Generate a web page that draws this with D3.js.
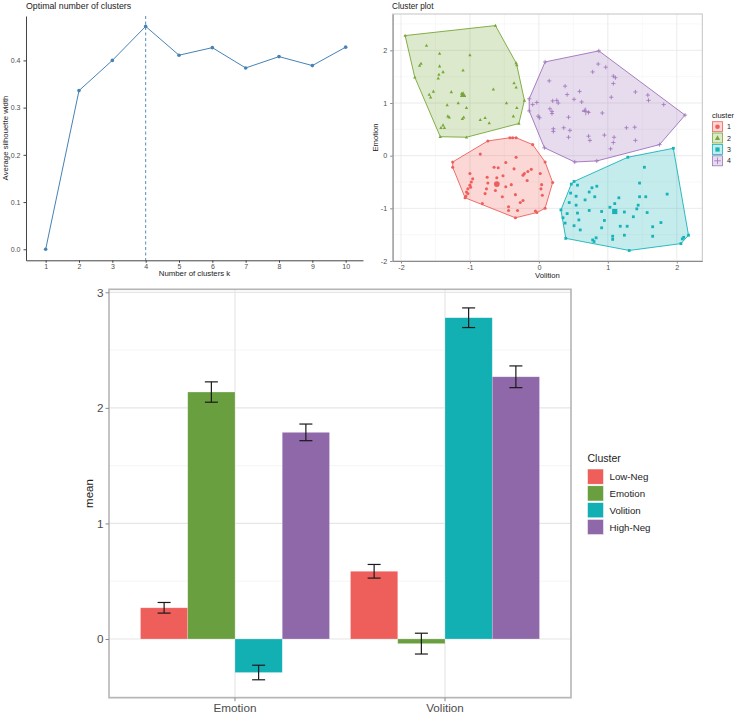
<!DOCTYPE html>
<html><head><meta charset="utf-8">
<script src="https://cdn.jsdelivr.net/npm/d3@7"></script>
<style>
body{margin:0;background:#fff;}
svg{display:block;font-family:"Liberation Sans",Arial,Helvetica,sans-serif;}
</style></head>
<body>
<svg id="c" width="736" height="716"></svg>
<script>
// ---------- DATA ----------
const silK = [1,2,3,4,5,6,7,8,9,10];
const silWidth = [0, 0.336, 0.400, 0.472, 0.411, 0.427, 0.384, 0.408, 0.389, 0.428];
const optimalK = 4;
const silYTicks = [0.0, 0.1, 0.2, 0.3, 0.4];

const clusterIds = ["1","2","3","4"];
const cluster1Pts = [[-1.25,-0.12],[-0.74,0.28],[-0.42,0.34],[-0.33,0.34],[-0.09,0.21],[0.09,-0.12],[0.20,-0.51],[0.09,-1.00],[-0.03,-1.08],[-0.34,-1.18],[-0.82,-0.91],[-1.07,-0.80],[-1.25,-0.22],
 [-0.85,0.03],[-0.33,-0.03],[-0.48,-0.13],[-0.65,-0.22],[-0.59,-0.23],[-0.36,-0.25],[-0.11,-0.26],[-0.16,-0.30],[-0.21,-0.34],[-0.23,-0.37],[-0.17,-0.47],[0.02,-0.34],[-1.00,-0.34],[-0.96,-0.44],[-0.98,-0.50],[-1.00,-0.56],[-1.03,-0.63],[-1.05,-0.69],[-1.03,-0.72],[-0.75,-0.41],[-0.74,-0.52],[-0.76,-0.63],[-0.78,-0.72],[-0.63,-0.66],[-0.52,-0.38],[-0.48,-0.59],[-0.34,-0.74],[-0.53,-0.78],[-0.27,-0.89],[-0.23,-0.85],[-0.44,-0.97],[-0.44,-1.04],[-0.31,-1.04],[0.04,-0.55],[0.03,-0.63],[0.05,-0.75],[-1.06,-0.77],[-0.99,-0.60],[-0.05,-1.05],[-0.38,0.34],[-0.40,-0.55],[-0.61,-0.42]];
const cluster2Pts = [[-1.94,2.28],[-0.63,2.47],[-0.33,1.76],[-0.21,1.05],[-0.29,0.61],[-1.05,0.35],[-1.43,0.36],[-1.80,1.49],
 [-1.63,2.09],[-1.44,1.94],[-1.71,1.75],[-1.73,1.71],[-1.44,1.70],[-1.39,1.59],[-1.45,1.54],[-1.46,1.47],[-1.10,1.62],[-1.00,1.91],[-0.32,1.72],[-0.36,1.38],[-0.33,1.30],[-1.59,1.16],[-1.57,1.11],[-1.53,1.22],[-1.27,1.21],[-1.17,1.00],[-1.05,0.91],[-1.33,0.96],[-1.32,0.75],[-1.30,0.73],[-1.39,0.58],[-1.37,0.53],[-1.42,0.53],[-1.11,0.70],[-1.09,0.73],[-0.85,0.68],[-0.78,0.72],[-0.72,0.62],[-0.66,1.26],[-0.47,1.00],[-0.37,0.75],[-0.32,0.91],[-1.12,1.18],[-1.08,1.14]];
const cluster3Pts = [[0.47,-0.54],[0.51,-0.49],[1.29,-0.03],[1.95,0.14],[2.17,-1.51],[2.08,-1.58],[2.06,-1.67],[1.31,-1.80],[0.39,-1.57],[0.35,-1.18],[0.32,-1.03],
 [1.53,-0.22],[1.46,-0.52],[1.86,-0.73],[0.84,-0.58],[0.77,-0.61],[0.73,-0.69],[0.56,-0.56],[0.46,-0.71],[0.54,-0.77],[0.44,-0.89],[0.41,-1.10],[0.56,-1.09],[0.58,-1.22],[0.51,-1.33],[0.60,-1.41],[0.54,-0.94],[0.81,-0.78],[0.67,-0.84],[0.73,-1.04],[0.91,-1.06],[0.95,-1.23],[0.91,-1.37],[0.78,-1.60],[0.83,-1.56],[0.80,-1.63],[1.07,-1.53],[1.07,-1.59],[1.10,-0.91],[1.16,-0.80],[1.03,-0.98],[1.24,-1.07],[1.37,-1.16],[1.18,-1.34],[1.28,-1.34],[1.24,-1.51],[1.42,-1.01],[1.44,-0.94],[1.46,-0.78],[1.57,-1.08],[1.65,-1.35],[1.77,-1.27],[1.65,-1.53],[1.55,-0.78],[2.10,-1.55],[0.38,-1.28]];
const cluster4Pts = [[0.09,1.78],[0.87,1.99],[2.12,0.77],[1.75,0.21],[0.84,-0.10],[0.52,-0.12],[0.08,0.15],[-0.14,0.85],[-0.14,1.08],
 [0.86,1.74],[0.78,1.59],[0.97,1.68],[1.08,1.51],[1.11,1.48],[1.08,1.37],[0.15,1.42],[0.38,1.32],[0.41,1.16],[0.59,1.22],[0.51,1.07],[0.62,1.02],[0.72,0.82],[0.92,0.81],[1.05,1.11],[1.40,1.21],[1.58,1.15],[1.59,1.05],[1.81,0.97],[-0.03,1.01],[-0.09,0.97],[-0.01,0.75],[0.01,0.72],[0.16,0.89],[0.19,0.84],[0.19,0.80],[0.26,1.05],[0.28,1.00],[0.20,1.04],[0.43,0.73],[0.36,0.53],[0.45,0.48],[0.21,0.51],[0.21,0.46],[0.43,0.35],[0.72,0.37],[0.74,0.29],[0.95,0.39],[1.09,0.35],[1.08,0.25],[1.04,0.13],[1.27,0.53],[1.39,0.54],[1.40,0.29],[0.66,0.86]];
const clusterCenters = [[-0.61,-0.54],[-1.10,1.16],[1.10,-1.06],[0.68,0.84]];
const clusterXTicks = [-2,-1,0,1,2];
const clusterYTicks = [-2,-1,0,1,2];

const barVars = ["Emotion","Volition"];
const clusterNames = ["Low-Neg","Emotion","Volition","High-Neg"];
const meanEmotion = [0.270, 2.137, -0.290, 1.788];
const meanVolition = [0.586, -0.040, 2.780, 2.269];
const seEmotion = [0.046, 0.088, 0.063, 0.072];
const seVolition = [0.059, 0.090, 0.085, 0.094];
const barYTicks = [0,1,2,3];

// ---------- STYLE ----------
const clusterStroke = ["#EE5F5B","#76A736","#17B3B8","#9E72BA"];
const barColors = ["#EE5F5B","#6A9F3F","#12AFB3","#8E68A9"];
const svg = d3.select("#c");
const plainFmt = d => String(d);

// ================= PANEL 1: silhouette =================
(function(){
  const g = svg.append("g");
  const x = d3.scaleLinear().domain([0.41,10.52]).range([26,363]);
  const y = d3.scaleLinear().domain([-0.0233,0.494]).range([260.3,16]);
  g.append("text").attr("x",26).attr("y",9).attr("font-size",8.8).attr("fill","#222").text("Optimal number of clusters");
  g.append("line").attr("x1",x(optimalK)).attr("x2",x(optimalK)).attr("y1",y.range()[1]).attr("y2",y.range()[0])
    .attr("stroke","#4682B4").attr("stroke-dasharray","3,2.5").attr("stroke-width",0.9);
  const line = d3.line().x((d,i)=>x(silK[i])).y(d=>y(d));
  g.append("path").datum(silWidth).attr("d",line).attr("fill","none").attr("stroke","#4682B4").attr("stroke-width",1);
  g.selectAll("circle.p").data(silWidth).join("circle").attr("cx",(d,i)=>x(silK[i])).attr("cy",d=>y(d)).attr("r",1.8).attr("fill","#4682B4");
  const xa = g.append("g").attr("transform","translate(0,260.3)").call(d3.axisBottom(x).tickValues(silK).tickSize(2.5).tickSizeOuter(0).tickFormat(d3.format("d")));
  const ya = g.append("g").attr("transform","translate(26,0)").call(d3.axisLeft(y).tickValues(silYTicks).tickSize(2.5).tickSizeOuter(0).tickFormat(d3.format(".1f")));
  [xa,ya].forEach(a=>{a.select(".domain").attr("stroke","#444").attr("stroke-width",1);
    a.selectAll(".tick line").attr("stroke","#444");
    a.selectAll("text").attr("font-size",7).attr("fill","#4d4d4d").attr("font-family","Liberation Sans, Arial, sans-serif");});
  xa.selectAll("text").attr("y",4);
  g.append("text").attr("x",194.5).attr("y",276).attr("text-anchor","middle").attr("font-size",7.8).attr("fill","#222").text("Number of clusters k");
  g.append("text").attr("transform","translate(8,138) rotate(-90)").attr("text-anchor","middle").attr("font-size",7.8).attr("fill","#222").text("Average silhouette width");
})();

// ================= PANEL 2: cluster plot =================
(function(){
  const g = svg.append("g");
  const L=392.7,R=702.3,T=14,B=261;
  const x = d3.scaleLinear().domain([-2.12,2.37]).range([L,R]);
  const y = d3.scaleLinear().domain([-2,2.69]).range([B,T]);
  g.append("text").attr("x",392).attr("y",9).attr("font-size",8.2).attr("fill","#222").text("Cluster plot");
  g.append("rect").attr("x",L).attr("y",T).attr("width",R-L).attr("height",B-T).attr("fill","#fff");
  d3.range(-2.5,2.51,1).forEach(v=>{ if(x(v)>L&&x(v)<R) g.append("line").attr("x1",x(v)).attr("x2",x(v)).attr("y1",T).attr("y2",B).attr("stroke","#F3F3F3").attr("stroke-width",0.6);});
  d3.range(-1.5,2.6,1).forEach(v=>{ if(y(v)>T&&y(v)<B) g.append("line").attr("y1",y(v)).attr("y2",y(v)).attr("x1",L).attr("x2",R).attr("stroke","#F3F3F3").attr("stroke-width",0.6);});
  clusterXTicks.forEach(v=>g.append("line").attr("x1",x(v)).attr("x2",x(v)).attr("y1",T).attr("y2",B).attr("stroke","#E6E6E6").attr("stroke-width",0.8));
  clusterYTicks.forEach(v=>g.append("line").attr("y1",y(v)).attr("y2",y(v)).attr("x1",L).attr("x2",R).attr("stroke","#E6E6E6").attr("stroke-width",0.8));

  const pts = [cluster1Pts,cluster2Pts,cluster3Pts,cluster4Pts];
  pts.forEach((p,i)=>{
    const hull = d3.polygonHull(p.map(d=>[x(d[0]),y(d[1])]));
    g.append("path").attr("d","M"+hull.join("L")+"Z").attr("fill",clusterStroke[i]).attr("fill-opacity",0.25)
      .attr("stroke",clusterStroke[i]).attr("stroke-width",0.9);
  });
  function marker(sel, i, cx, cy, s){
    const c = clusterStroke[i];
    if(i===0) sel.append("circle").attr("cx",cx).attr("cy",cy).attr("r",s*0.55).attr("fill",c);
    else if(i===1) sel.append("path").attr("d",`M${cx},${cy-s*0.65}L${cx+s*0.6},${cy+s*0.45}L${cx-s*0.6},${cy+s*0.45}Z`).attr("fill",c);
    else if(i===2) sel.append("rect").attr("x",cx-s*0.5).attr("y",cy-s*0.5).attr("width",s).attr("height",s).attr("fill",c);
    else sel.append("path").attr("d",`M${cx-s*0.75},${cy}H${cx+s*0.75}M${cx},${cy-s*0.75}V${cy+s*0.75}`).attr("stroke",c).attr("stroke-width",0.8).attr("fill","none");
  }
  pts.forEach((p,i)=>{
    p.forEach(d=>marker(g,i,x(d[0]),y(d[1]),2.8));
    marker(g,i,x(clusterCenters[i][0]),y(clusterCenters[i][1]),5.2);
  });
  g.append("rect").attr("x",L).attr("y",T).attr("width",R-L).attr("height",B-T).attr("fill","none").attr("stroke","#C4C4C4").attr("stroke-width",1);
  const xa = g.append("g").attr("transform",`translate(0,${B})`).call(d3.axisBottom(x).tickValues(clusterXTicks).tickSize(2.5).tickSizeOuter(0).tickFormat(plainFmt));
  const ya = g.append("g").attr("transform",`translate(${L},0)`).call(d3.axisLeft(y).tickValues(clusterYTicks).tickSize(2.5).tickSizeOuter(0).tickFormat(plainFmt));
  [xa,ya].forEach(a=>{a.select(".domain").attr("stroke","#8a8a8a").attr("stroke-width",1);
    a.selectAll(".tick line").attr("stroke","#8a8a8a");
    a.selectAll("text").attr("font-size",7.2).attr("fill","#4d4d4d").attr("font-family","Liberation Sans, Arial, sans-serif");});
  xa.selectAll("text").attr("y",4);
  g.append("text").attr("x",(L+R)/2).attr("y",278).attr("text-anchor","middle").attr("font-size",7.7).attr("fill","#222").text("Volition");
  g.append("text").attr("transform",`translate(378,${(T+B)/2}) rotate(-90)`).attr("text-anchor","middle").attr("font-size",7.7).attr("fill","#222").text("Emotion");
  // legend
  g.append("text").attr("x",712).attr("y",118).attr("font-size",7.5).attr("fill","#222").text("cluster");
  const ky = [126.7,138,149.5,160.8];
  clusterIds.forEach((id,i)=>{
    g.append("rect").attr("x",712.5).attr("y",ky[i]-5).attr("width",10).attr("height",10)
      .attr("fill",clusterStroke[i]).attr("fill-opacity",0.25).attr("stroke",clusterStroke[i]).attr("stroke-width",0.8);
    marker(g,i,717.5,ky[i],i===3?4.4:4.2);
    g.append("text").attr("x",727).attr("y",ky[i]+2.5).attr("font-size",7).attr("fill","#222").text(id);
  });
})();

// ================= PANEL 3: bar chart =================
(function(){
  const g = svg.append("g");
  const L=109,R=571,T=289.3,B=697.7;
  const x0 = d3.scaleBand().domain(barVars).range([L,R]).paddingInner(0.1).paddingOuter(0.15);
  const x1 = d3.scaleBand().domain(clusterNames).range([0,x0.bandwidth()]).padding(0);
  const y = d3.scaleLinear().domain([-0.508,3.026]).range([B,T]);
  g.append("rect").attr("x",L).attr("y",T).attr("width",R-L).attr("height",B-T).attr("fill","#fff");
  [-0.5,0.5,1.5,2.5].forEach(v=>g.append("line").attr("x1",L).attr("x2",R).attr("y1",y(v)).attr("y2",y(v)).attr("stroke","#F2F2F2").attr("stroke-width",0.8));
  barYTicks.forEach(v=>g.append("line").attr("x1",L).attr("x2",R).attr("y1",y(v)).attr("y2",y(v)).attr("stroke","#E6E6E6").attr("stroke-width",1.2));
  barVars.forEach(v=>{const cx=x0(v)+x0.bandwidth()/2; g.append("line").attr("x1",cx).attr("x2",cx).attr("y1",T).attr("y2",B).attr("stroke","#E6E6E6").attr("stroke-width",1.2);});
  const means = {Emotion:meanEmotion, Volition:meanVolition};
  const ses = {Emotion:seEmotion, Volition:seVolition};
  barVars.forEach(v=>{
    clusterNames.forEach((c,i)=>{
      const m = means[v][i];
      const bx = x0(v)+x1(c), bw = x1.bandwidth();
      g.append("rect").attr("x",bx).attr("width",bw).attr("y",y(Math.max(0,m))).attr("height",Math.abs(y(m)-y(0)))
        .attr("fill",barColors[i]).attr("stroke","#ffffff").attr("stroke-opacity",0.35).attr("stroke-width",0.6);
    });
  });
  barVars.forEach(v=>{
    clusterNames.forEach((c,i)=>{
      const m = means[v][i], s = ses[v][i];
      const cx = x0(v)+x1(c)+x1.bandwidth()/2, hw=6.5;
      const eb = g.append("g").attr("stroke","#1a1a1a").attr("stroke-width",1.2).attr("fill","none");
      eb.append("line").attr("x1",cx).attr("x2",cx).attr("y1",y(m+s)).attr("y2",y(m-s));
      eb.append("line").attr("x1",cx-hw).attr("x2",cx+hw).attr("y1",y(m+s)).attr("y2",y(m+s));
      eb.append("line").attr("x1",cx-hw).attr("x2",cx+hw).attr("y1",y(m-s)).attr("y2",y(m-s));
    });
  });
  g.append("rect").attr("x",L).attr("y",T).attr("width",R-L).attr("height",B-T).attr("fill","none").attr("stroke","#B5B5B5").attr("stroke-width",1.6);
  const ya = g.append("g").attr("transform",`translate(${L},0)`).call(d3.axisLeft(y).tickValues(barYTicks).tickSize(3.5).tickSizeOuter(0).tickFormat(d3.format("d")));
  const xa = g.append("g").attr("transform",`translate(0,${B})`).call(d3.axisBottom(x0).tickSize(3.5).tickSizeOuter(0));
  [xa,ya].forEach(a=>{a.select(".domain").remove();
    a.selectAll(".tick line").attr("stroke","#8a8a8a").attr("stroke-width",1);
    a.selectAll("text").attr("font-size",11.7).attr("fill","#4d4d4d").attr("font-family","Liberation Sans, Arial, sans-serif");});
  ya.selectAll("text").attr("x",-5.5);
  xa.selectAll("text").attr("y",6);
  g.append("text").attr("transform",`translate(93,493.5) rotate(-90)`).attr("text-anchor","middle").attr("font-size",11.5).attr("fill","#222").text("mean");
  // legend
  g.append("text").attr("x",587.5).attr("y",462).attr("font-size",10.5).attr("fill","#222").text("Cluster");
  const ky = [469,485.8,502.6,519.4];
  clusterNames.forEach((c,i)=>{
    g.append("rect").attr("x",587.5).attr("y",ky[i]).attr("width",16).attr("height",15.2).attr("fill",barColors[i]).attr("stroke","#fff").attr("stroke-width",0.5);
    g.append("text").attr("x",609.5).attr("y",ky[i]+11.3).attr("font-size",9.7).attr("fill","#222").text(c);
  });
})();
</script>
</body></html>
